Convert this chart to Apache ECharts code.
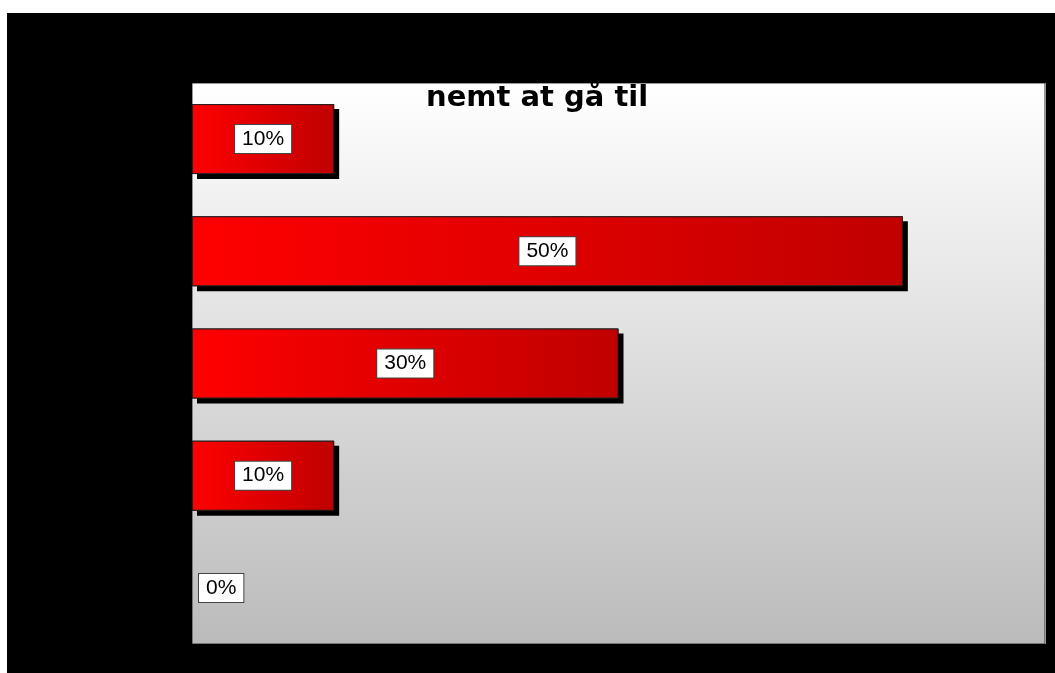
<!DOCTYPE html>
<html>
<head>
<meta charset="utf-8">
<script src="https://cdn.jsdelivr.net/npm/echarts@6/dist/echarts.min.js"></script>
<style>
  html, body { margin: 0; padding: 0; background: #ffffff; }
  #chart { width: 1055px; height: 673px; }
</style>
</head>
<body>
<div id="chart"></div>
<script>
// Answer categories (top to bottom) and their shares in percent
const categories = ['Meget enig', 'Enig', 'Hverken eller', 'Uenig', 'Meget uenig'];
const shares = [10, 50, 30, 10, 0];
const titleText = 'nemt at gå til';

const chart = echarts.init(document.getElementById('chart'));

// Plot rectangle in pixels
const plot = { left: 192, top: 83, right: 1045, bottom: 644 };
const W = 1055, H = 673;

const barGradient = new echarts.graphic.LinearGradient(0, 0, 1, 0, [
  { offset: 0, color: '#ff0000' },
  { offset: 1, color: '#c00000' }
]);

chart.setOption({
  animation: false,
  backgroundColor: '#ffffff',
  title: {
    text: titleText,
    left: 421,
    top: 79,
    z: 1,
    textStyle: {
      fontFamily: 'DejaVu Sans',
      fontWeight: 'bold',
      fontSize: 29,
      color: '#000000'
    }
  },
  grid: {
    left: plot.left,
    top: plot.top,
    right: W - plot.right,
    bottom: H - plot.bottom,
    show: true,
    borderColor: '#333333',
    borderWidth: 1,
    backgroundColor: new echarts.graphic.LinearGradient(0, 0, 0, 1, [
      { offset: 0, color: '#ffffff' },
      { offset: 1, color: '#bbbbbb' }
    ])
  },
  xAxis: {
    type: 'value',
    min: 0,
    max: 60,
    interval: 10,
    show: false
  },
  yAxis: {
    type: 'category',
    data: categories,
    inverse: true,
    axisLine: { show: false },
    axisTick: { show: false },
    axisLabel: { color: '#000000', fontFamily: 'Liberation Sans', fontSize: 14 }
  },
  series: [
    {
      // drop shadow layer behind the bars
      type: 'bar',
      barWidth: 70,
      silent: true,
      data: shares.map(v => ({
        value: v,
        itemStyle: v === 0 ? { opacity: 0 } : {}
      })),
      itemStyle: {
        color: '#000000',
        borderWidth: 0,
        shadowColor: '#000000',
        shadowBlur: 0,
        shadowOffsetX: 5,
        shadowOffsetY: 5
      },
      label: { show: false }
    },
    {
      type: 'bar',
      barWidth: 70,
      barGap: '-100%',
      data: shares.map(v => ({
        value: v,
        itemStyle: v === 0 ? { borderWidth: 0, color: 'rgba(0,0,0,0)' } : {},
        label: v === 0 ? { position: 'right', distance: 7 } : { position: 'inside' }
      })),
      itemStyle: {
        color: barGradient,
        borderColor: '#222222',
        borderWidth: 1
      },
      label: {
        show: true,
        formatter: p => p.value + '%',
        fontFamily: 'Liberation Sans',
        fontSize: 21,
        color: '#000000',
        backgroundColor: '#ffffff',
        borderColor: '#444444',
        borderWidth: 1,
        padding: [4, 7, 3, 7]
      }
    }
  ],
  // Black frame surrounding the plot area
  graphic: [
    { type: 'rect', z: 100, silent: true, shape: { x: 7, y: 13, width: W - 7, height: plot.top - 13 }, style: { fill: '#000000' } },
    { type: 'rect', z: 100, silent: true, shape: { x: 7, y: plot.top, width: plot.left - 7, height: plot.bottom - plot.top }, style: { fill: '#000000' } },
    { type: 'rect', z: 100, silent: true, shape: { x: plot.right + 1, y: plot.top, width: W - plot.right - 1, height: plot.bottom - plot.top }, style: { fill: '#000000' } },
    { type: 'rect', z: 100, silent: true, shape: { x: 7, y: plot.bottom, width: W - 7, height: H - plot.bottom }, style: { fill: '#000000' } }
  ]
});
</script>
</body>
</html>
